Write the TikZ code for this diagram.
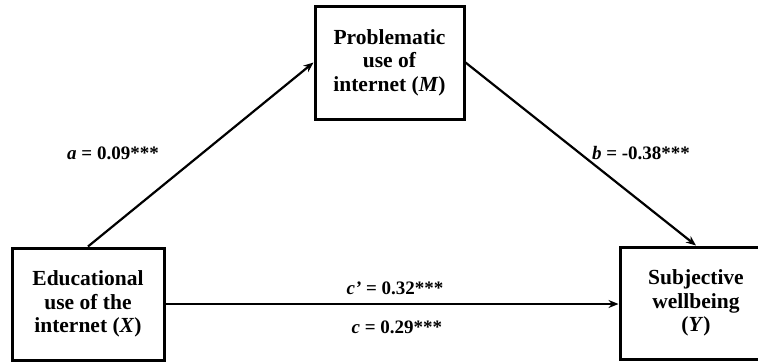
\documentclass[tikz,border=0pt]{standalone}
\usepackage{fontspec}
\setmainfont{Liberation Serif}
\usetikzlibrary{arrows.meta}
\begin{document}
\begin{tikzpicture}[x=1pt,y=-1pt,
  varbox/.style={draw,line width=3pt,minimum width=#1,align=center,
    font=\bfseries\fontsize{21.5}{23.5}\selectfont,inner sep=0pt},
  conn/.style={line width=2.2pt,-{Stealth[length=10pt,width=8pt]}},
  lbl/.style={font=\bfseries\fontsize{19}{22}\selectfont,inner sep=0pt}]
\useasboundingbox (0,0) rectangle (758,364);
\clip (0,0) rectangle (758,364);
\node[varbox=149pt,minimum height=113pt] (m) at (389.5,62.5) {Problematic\\use of\\internet (\textit{M})};
\node[varbox=152pt,minimum height=112pt] (x) at (88,304) {Educational\\use of the\\internet (\textit{X})};
\node[varbox=152pt,minimum height=112pt] (y) at (696,303) {Subjective\\wellbeing\\(\textit{Y})};
\draw[conn] (x.north) -- (m.west);
\draw[conn] (m.east) -- (y.north);
\draw[conn] (x.east) -- (x.east -| y.west);
\node[lbl] (la) at (113,153) {\textit{a} = 0.09***};
\node[lbl] (lb) at (641,153) {\textit{b} = -0.38***};
\node[lbl] (lc1) at (395,288) {\textit{c’} = 0.32***};
\node[lbl] (lc2) at (397,327) {\textit{c} = 0.29***};
\end{tikzpicture}
\end{document}
